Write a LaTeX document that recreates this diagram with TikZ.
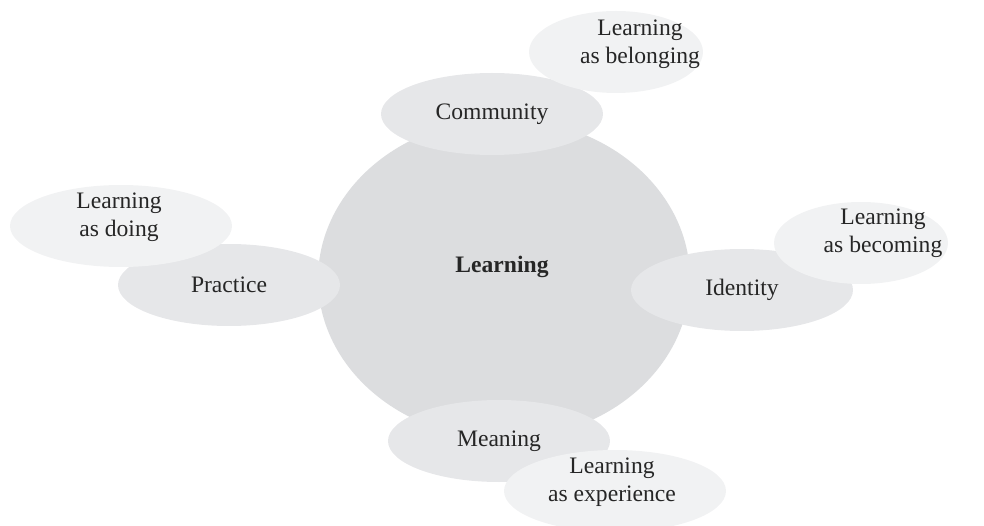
\documentclass[tikz,border=0pt]{standalone}
\usepackage{fontspec}
\setmainfont{Liberation Serif}
\usetikzlibrary{shapes.geometric}
\definecolor{coreC}{HTML}{DCDDDF}
\definecolor{innerC}{HTML}{E6E7E9}
\definecolor{outerC}{HTML}{F1F2F3}
\tikzset{
  txt/.style={font=\fontsize{23.6}{28}\selectfont, align=center, text=black!85, inner sep=0pt},
  core/.style={ellipse, fill=coreC, minimum width=372pt, minimum height=320pt, inner sep=0pt},
  inner/.style={ellipse, fill=innerC, minimum width=222pt, minimum height=82pt, inner sep=0pt, font=\fontsize{23.6}{28}\selectfont, text=black!85},
  outer/.style={ellipse, fill=outerC, minimum width=222pt, minimum height=82pt, inner sep=0pt},
  outers/.style={ellipse, fill=outerC, minimum width=174pt, minimum height=82pt, inner sep=0pt},
}
\begin{document}
\begin{tikzpicture}[x=1pt, y=-1pt]
\useasboundingbox (0,0) rectangle (984,526);
\node[core] (learn) at (504,279) {};
\node[txt, font=\fontsize{23.6}{28}\selectfont\bfseries] (learnT) at (502,267) {Learning};
\node[inner] (community) at (492,114) {Community};
\node[inner] (practice) at (229,285) {Practice};
\node[inner] (identity) at (742,290) {Identity};
\node[inner] (meaning) at (499,441) {Meaning};
\node[outers] (belonging) at (616,52) {};
\node[outer] (doing) at (121,226) {};
\node[outers] (becoming) at (861,243) {};
\node[outer] (experience) at (615,491) {};
\node[txt] (belongingT) at (640,44) {Learning\\as belonging};
\node[txt] (doingT) at (119,217) {Learning\\as doing};
\node[txt] (becomingT) at (883,233) {Learning\\as becoming};
\node[txt] (experienceT) at (612,482) {Learning\\as experience};
\end{tikzpicture}
\end{document}
